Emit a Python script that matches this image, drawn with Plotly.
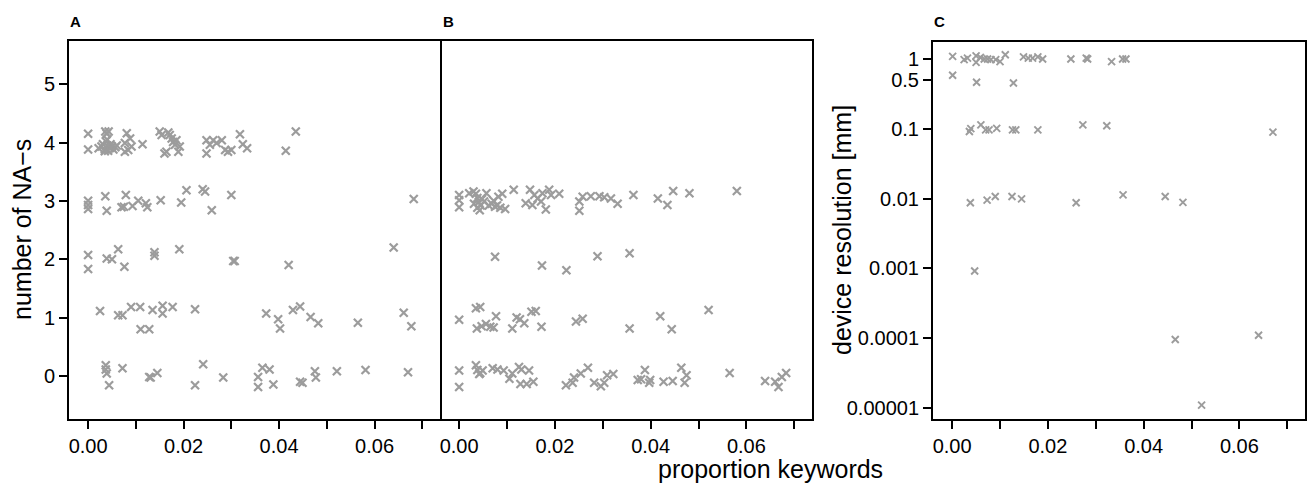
import plotly.graph_objects as go

# ---------------- Panel A: number of NA-s vs proportion keywords ----------------
a_x = [0.0000, 0.0000, 0.0036, 0.0043, 0.0039,
       0.0022, 0.0028, 0.0031, 0.0035, 0.0037, 0.0040, 0.0042, 0.0045, 0.0047, 0.0050,
       0.0053, 0.0035, 0.0040, 0.0057, 0.0060,
       0.0081, 0.0088, 0.0077, 0.0077, 0.0084, 0.0091, 0.0114,
       0.0150, 0.0154, 0.0168, 0.0171, 0.0175, 0.0178, 0.0182, 0.0185, 0.0164, 0.0160,
       0.0189, 0.0192,
       0.0248, 0.0255, 0.0262, 0.0269, 0.0280, 0.0248, 0.0287, 0.0293, 0.0300,
       0.0318, 0.0324, 0.0333, 0.0414, 0.0435,
       0.0000, 0.0000, 0.0000, 0.0036, 0.0039, 0.0070, 0.0075, 0.0079, 0.0093, 0.0105,
       0.0121, 0.0124, 0.0152, 0.0195, 0.0206, 0.0240, 0.0245, 0.0259, 0.0300, 0.0682,
       0.0000, 0.0000, 0.0039, 0.0050, 0.0063, 0.0076, 0.0139, 0.0139, 0.0191, 0.0304,
       0.0307, 0.0420, 0.0640,
       0.0025, 0.0063, 0.0072, 0.0090, 0.0109, 0.0110, 0.0128, 0.0135, 0.0156, 0.0156,
       0.0177, 0.0224, 0.0373, 0.0398, 0.0402, 0.0429, 0.0444, 0.0466, 0.0482, 0.0565,
       0.0661, 0.0677,
       0.0037, 0.0037, 0.0039, 0.0044, 0.0072, 0.0128, 0.0131, 0.0145, 0.0224, 0.0241,
       0.0283, 0.0356, 0.0356, 0.0365, 0.0380, 0.0388, 0.0444, 0.0449, 0.0475, 0.0477,
       0.0521, 0.0581, 0.0670]
a_y = [4.15, 3.88, 4.19, 4.19, 4.15,
       3.90, 3.93, 3.97, 3.88, 4.02, 3.95, 3.86, 3.90, 3.97, 3.93,
       3.88, 3.85, 4.05, 3.92, 3.95,
       4.16, 4.07, 3.99, 3.84, 3.87, 3.93, 3.97,
       4.19, 4.13, 4.17, 4.13, 4.07, 4.01, 3.96, 4.04, 3.84, 3.81,
       3.84, 3.93,
       4.04, 3.96, 4.04, 3.99, 4.04, 3.81, 3.87, 3.84, 3.87,
       4.14, 3.97, 3.90, 3.86, 4.19,
       3.00, 2.93, 2.86, 3.08, 2.83, 2.89, 2.90, 3.10, 2.91, 3.00,
       2.96, 2.89, 3.01, 2.97, 3.18, 3.20, 3.16, 2.84, 3.10, 3.03,
       2.07, 1.83, 2.01, 2.00, 2.17, 1.87, 2.12, 2.06, 2.17, 1.97,
       1.97, 1.90, 2.20,
       1.11, 1.04, 1.04, 1.18, 1.18, 0.80, 0.80, 1.13, 1.20, 1.07,
       1.18, 1.14, 1.07, 0.97, 0.81, 1.13, 1.19, 1.01, 0.90, 0.91,
       1.08, 0.85,
       0.18, 0.11, 0.04, -0.16, 0.13, -0.02, -0.03, 0.05, -0.16, 0.20,
       -0.03, -0.02, -0.19, 0.14, 0.11, -0.15, -0.10, -0.12, 0.08, -0.03,
       0.08, 0.10, 0.06]

# ---------------- Panel B: number of NA-s vs proportion keywords ----------------
b_x = [0.0000, 0.0000, 0.0000,
       0.0021, 0.0030, 0.0035, 0.0038, 0.0041, 0.0031, 0.0038, 0.0045, 0.0052, 0.0057,
       0.0062, 0.0068, 0.0072, 0.0075, 0.0079, 0.0082, 0.0090, 0.0086, 0.0096, 0.0043,
       0.0048,
       0.0114, 0.0139, 0.0148, 0.0153, 0.0157, 0.0164, 0.0171, 0.0174, 0.0181, 0.0188,
       0.0192, 0.0209,
       0.0251, 0.0251, 0.0258, 0.0275, 0.0293, 0.0303, 0.0317, 0.0331, 0.0364, 0.0415,
       0.0435, 0.0447, 0.0481, 0.0580,
       0.0075, 0.0173, 0.0224, 0.0289, 0.0356,
       0.0000, 0.0035, 0.0044, 0.0037, 0.0047, 0.0056, 0.0065, 0.0072, 0.0077, 0.0111,
       0.0120, 0.0127, 0.0136, 0.0151, 0.0160, 0.0172, 0.0244, 0.0258, 0.0356, 0.0420,
       0.0444, 0.0521,
       0.0000, 0.0000, 0.0035, 0.0038, 0.0044, 0.0049, 0.0042, 0.0070, 0.0080, 0.0093,
       0.0105, 0.0111, 0.0125, 0.0130, 0.0146, 0.0128, 0.0141, 0.0155, 0.0223, 0.0237,
       0.0240, 0.0254, 0.0269, 0.0282, 0.0296, 0.0303, 0.0309, 0.0322, 0.0373, 0.0380,
       0.0388, 0.0399, 0.0397, 0.0427, 0.0446, 0.0464, 0.0475, 0.0471, 0.0565, 0.0639,
       0.0660, 0.0667, 0.0674, 0.0683]
b_y = [3.10, 3.01, 2.89,
       3.13, 3.16, 3.12, 3.05, 2.98, 2.95, 2.88, 2.92, 2.99, 3.13,
       2.92, 2.95, 3.00, 2.90, 2.92, 3.07, 3.12, 2.88, 2.86, 2.84,
       3.03,
       3.19, 2.96, 3.19, 2.93, 3.10, 3.04, 2.99, 3.13, 2.85, 3.19,
       3.10, 3.12,
       2.99, 2.83, 3.07, 3.08, 3.08, 3.06, 3.04, 2.95, 3.10, 3.04,
       2.93, 3.17, 3.13, 3.17,
       2.04, 1.89, 1.81, 2.05, 2.10,
       0.96, 1.16, 1.18, 0.81, 0.85, 0.89, 0.84, 0.83, 1.02, 0.81,
       1.00, 0.97, 0.90, 1.10, 1.11, 0.84, 0.93, 0.98, 0.81, 1.02,
       0.80, 1.13,
       0.09, -0.19, 0.18, 0.10, 0.05, 0.09, 0.03, 0.13, 0.11, 0.09,
       -0.05, 0.04, 0.15, 0.11, 0.09, -0.14, -0.14, -0.10, -0.16, -0.12,
       -0.03, 0.04, 0.14, -0.12, -0.18, -0.12, 0.01, 0.03, -0.07, -0.06,
       0.10, -0.07, -0.12, -0.10, -0.09, 0.14, 0.01, -0.12, 0.05, -0.09,
       -0.10, -0.19, -0.02, 0.05]

# ---------------- Panel C: device resolution vs proportion keywords ----------------
c_x = [0.0001, 0.0025, 0.0032, 0.0050, 0.0050, 0.0059, 0.0067, 0.0074, 0.0081, 0.0091,
       0.0100, 0.0111, 0.0149, 0.0159, 0.0168, 0.0179, 0.0189, 0.0248, 0.0280, 0.0283,
       0.0333, 0.0356, 0.0363,
       0.0001, 0.0051, 0.0128,
       0.0036, 0.0039, 0.0060, 0.0070, 0.0077, 0.0093, 0.0126, 0.0133, 0.0179, 0.0273,
       0.0323, 0.0670,
       0.0038, 0.0073, 0.0090, 0.0125, 0.0145, 0.0259, 0.0357, 0.0445, 0.0482,
       0.0047, 0.0466, 0.0640, 0.0521]
c_y = [1.08, 0.97, 1.02, 1.10, 0.885, 1.04, 0.99, 0.99, 0.97, 0.97,
       0.91, 1.14, 1.06, 1.02, 1.02, 1.06, 0.99, 0.99, 1.02, 0.99,
       0.91, 0.99, 0.99,
       0.58, 0.46, 0.45,
       0.091, 0.100, 0.113, 0.096, 0.096, 0.101, 0.096, 0.096, 0.096, 0.113,
       0.110, 0.089,
       0.0087, 0.0095, 0.0107, 0.0107, 0.0099, 0.0087, 0.0113, 0.0107, 0.0088,
       0.00092, 0.0000964, 0.000111, 0.0000111]

x_tickvals = [0.00, 0.01, 0.02, 0.03, 0.04, 0.05, 0.06, 0.07]
x_ticktext = ["0.00", "", "0.02", "", "0.04", "", "0.06", ""]
na_tickvals = [0, 1, 2, 3, 4, 5]
res_tickvals = [1, 0.5, 0.1, 0.01, 0.001, 0.0001, 0.00001]
res_ticktext = ["1", "0.5", "0.1", "0.01", "0.001", "0.0001", "0.00001"]

W, H = 1307, 484
FONT = "Liberation Sans, Arial, Helvetica, sans-serif"
GREY = "#9c9c9c"
TICK_SIZE = 20
TITLE_SIZE = 25

marker_ab = dict(symbol="x-thin-open", size=8, color=GREY,
                 line=dict(color=GREY, width=2.2))
marker_c = dict(symbol="x-thin-open", size=7, color=GREY,
                line=dict(color=GREY, width=1.9))

fig = go.Figure()
fig.add_trace(go.Scatter(x=a_x, y=a_y, mode="markers", marker=marker_ab,
                         xaxis="x", yaxis="y", showlegend=False, hoverinfo="skip"))
fig.add_trace(go.Scatter(x=b_x, y=b_y, mode="markers", marker=marker_ab,
                         xaxis="x2", yaxis="y2", showlegend=False, hoverinfo="skip"))
fig.add_trace(go.Scatter(x=c_x, y=c_y, mode="markers", marker=marker_c,
                         xaxis="x3", yaxis="y3", showlegend=False, hoverinfo="skip"))


def px_x(p):
    return p / W


def px_y(p):
    return 1 - p / H


xr = [-0.0040, 0.0737]
common_x = dict(range=xr, tickvals=x_tickvals, ticktext=x_ticktext,
                showline=True, mirror=True, linecolor="black", linewidth=2,
                ticks="outside", ticklen=8, tickwidth=2, tickcolor="black",
                showgrid=False, zeroline=False, automargin=False,
                tickfont=dict(family=FONT, size=TICK_SIZE, color="black"))
common_y = dict(showline=True, linecolor="black", linewidth=2,
                showgrid=False, zeroline=False, automargin=False,
                tickfont=dict(family=FONT, size=TICK_SIZE, color="black"))

yr = [-0.74, 5.74]
ydom = [px_y(419), px_y(41)]


def label(text, x, y, size, angle=0, bold=False, xanchor="center"):
    t = f"<b>{text}</b>" if bold else text
    return dict(text=t, x=px_x(x), y=px_y(y), xref="paper", yref="paper",
                xanchor=xanchor, yanchor="middle", showarrow=False, textangle=angle,
                font=dict(family=FONT, size=size, color="black"))


fig.update_layout(
    width=W, height=H,
    margin=dict(l=0, r=0, t=0, b=0, autoexpand=False),
    plot_bgcolor="white", paper_bgcolor="white",
    xaxis=dict(domain=[px_x(69), px_x(440)], anchor="y", **common_x),
    yaxis=dict(domain=ydom, anchor="x", range=yr, tickvals=na_tickvals, mirror=True,
               ticks="outside", ticklen=8, tickwidth=2, tickcolor="black",
               **common_y),
    xaxis2=dict(domain=[px_x(440), px_x(812)], anchor="y2", **common_x),
    yaxis2=dict(domain=ydom, anchor="x2", range=yr, showticklabels=False,
                side="right", mirror=False, ticks="", **common_y),
    xaxis3=dict(domain=[px_x(933), px_x(1305)], anchor="y3", **common_x),
    yaxis3=dict(domain=[px_y(419), px_y(42)], anchor="x3", type="log", mirror=True,
                range=[-5.153, 0.239], tickvals=res_tickvals, ticktext=res_ticktext,
                ticks="outside", ticklen=8, tickwidth=2, tickcolor="black",
                **common_y),
    annotations=[
        label("A", 68, 22, 15, bold=True, xanchor="left"),
        label("B", 441, 22, 15, bold=True, xanchor="left"),
        label("C", 932, 22, 15, bold=True, xanchor="left"),
        label("proportion keywords", 770, 469, TITLE_SIZE),
        label("number of NA\u2212s", 22, 230, TITLE_SIZE, angle=-90),
        label("device resolution [mm]", 842, 230, TITLE_SIZE, angle=-90),
    ],
)

fig.write_html("out.html", config={"displayModeBar": False},
               post_script="document.body.style.margin='0';"
                           "document.body.style.overflow='hidden';")
